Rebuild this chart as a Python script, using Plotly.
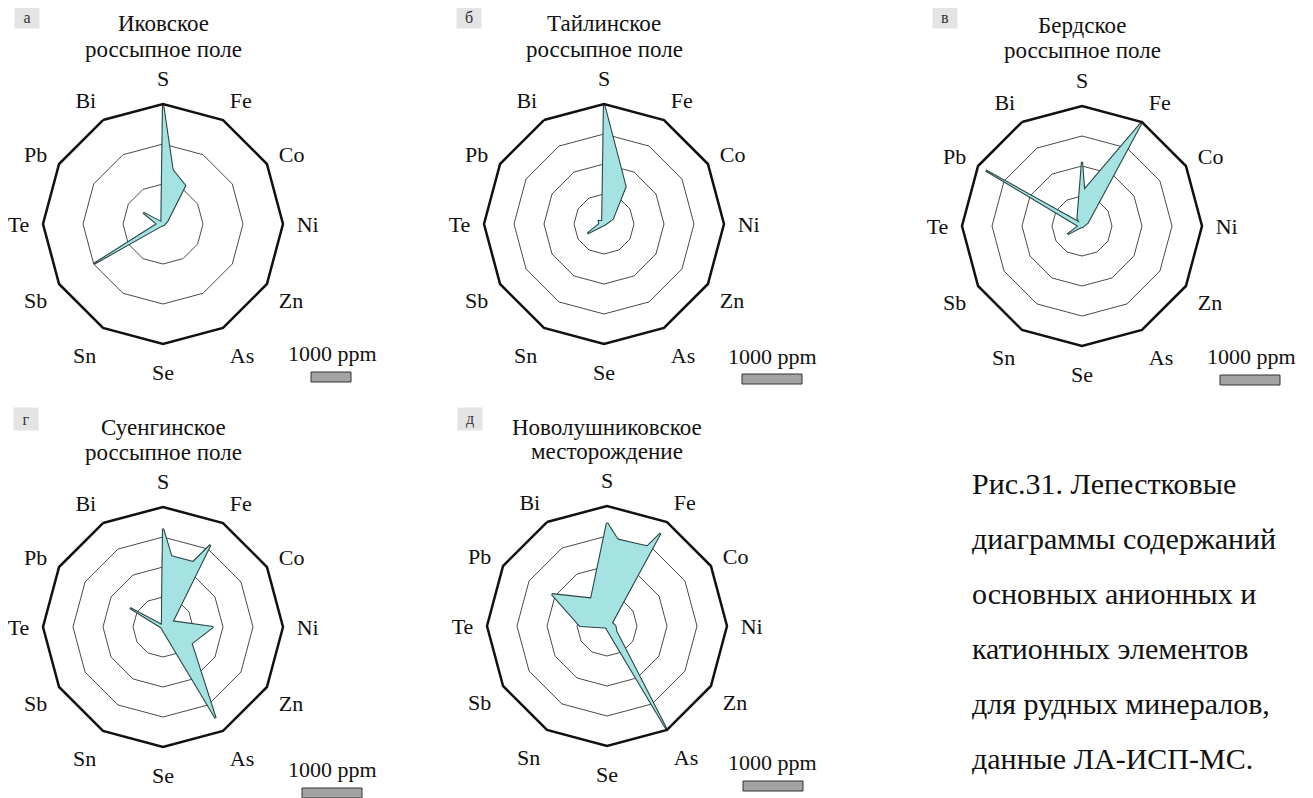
import plotly.graph_objects as go

# the page body has an 8 px margin; the figure is sized to fit the window
OFF = 8
W, H = 1313 - OFF, 798 - OFF

elements = ["S", "Fe", "Co", "Ni", "Zn", "As", "Se", "Sn", "Sb", "Te", "Pb", "Bi"]

# ppm values; several overlapping series per panel
a_series1 = [3000, 700, 60, 30, 30, 30, 30, 30, 60, 50, 50, 80]
a_series2 = [1650, 1110, 120, 40, 30, 30, 30, 40, 2000, 150, 570, 40]

b_series1 = [2000, 720, 170, 30, 20, 20, 20, 30, 320, 80, 100, 60]

v_series1 = [560, 2000, 110, 30, 20, 20, 20, 20, 280, 60, 1850, 60]
v_series2 = [1070, 145, 20, 10, 10, 10, 10, 10, 10, 10, 20, 150]

g_series1 = [1640, 650, 60, 30, 30, 30, 30, 20, 20, 20, 40, 30]
g_series2 = [1215, 1217, 80, 40, 30, 30, 20, 20, 20, 20, 30, 30]
g_series3 = [585, 1580, 186, 835, 550, 1755, 60, 30, 30, 40, 635, 40]

d_series1 = [1720, 1040, 60, 30, 30, 40, 30, 30, 50, 450, 1060, 530]
d_series2 = [1480, 1510, 90, 30, 30, 30, 20, 20, 20, 20, 20, 40]
d_series3 = [665, 1785, 75, 30, 30, 30, 20, 20, 20, 20, 20, 30]
d_series4 = [50, 50, 100, 140, 180, 2000, 60, 30, 30, 30, 30, 30]

panel_letters = ["а", "б", "в", "г", "д"]
panel_title1 = ["Иковское", "Тайлинское", "Бердское", "Суенгинское", "Новолушниковское"]
panel_title2 = ["россыпное поле", "россыпное поле", "россыпное поле", "россыпное поле", "месторождение"]
panel_rmax = [3000, 2000, 2000, 2000, 2000]
panel_rings = [[1000, 2000], [500, 1000, 1500], [500, 1000, 1500], [500, 1000, 1500], [500, 1000, 1500]]
panel_series = [
    [a_series1, a_series2],
    [b_series1],
    [v_series1, v_series2],
    [g_series1, g_series2, g_series3],
    [d_series1, d_series2, d_series3, d_series4],
]
scale_value = 1000
scale_label = "1000 ppm"

caption_lines = [
    "Рис.31. Лепестковые",
    "диаграммы содержаний",
    "основных анионных и",
    "катионных элементов",
    "для рудных минералов,",
    "данные ЛА-ИСП-МС.",
]

# layout (pixel positions in the window)
centers = [(163, 224), (604, 224), (1082, 226), (163, 627), (607, 626)]
R = 120
title_y = [(24, 50), (24, 50), (25, 51), (427, 452), (427, 451)]
letter_pos = [(26.5, 17), (469, 17), (944.5, 17), (26, 419), (470, 419)]
scale_text_pos = [(332, 353), (772, 356), (1251, 356), (332, 769), (773, 762)]
scale_bar_pos = [(331, 377), (772, 379), (1250, 380), (332, 793), (773, 786)]

FONT = "Liberation Serif"
FILL = "#a4e3e1"
EDGE = "#2c4646"

fig = go.Figure()
layout = dict(
    width=W, height=H,
    margin=dict(l=0, r=0, t=0, b=0),
    paper_bgcolor="white",
    showlegend=False,
    font=dict(family=FONT, color="#111"),
)

annotations = []
shapes = []


def px(x):
    return (x - OFF) / W


def py(y):
    return 1 - (y - OFF) / H


for i in range(5):
    key = "polar" if i == 0 else f"polar{i+1}"
    cx, cy = centers[i]
    layout[key] = dict(
        domain=dict(x=[px(cx - R), px(cx + R)], y=[py(cy + R), py(cy - R)]),
        gridshape="linear",
        bgcolor="white",
        radialaxis=dict(
            range=[0, panel_rmax[i]],
            tickvals=panel_rings[i],
            showticklabels=False,
            ticks="",
            showline=False,
            gridcolor="#4a4a4a",
            gridwidth=1,
        ),
        angularaxis=dict(
            type="category",
            categoryarray=elements,
            direction="clockwise",
            rotation=90,
            showgrid=False,
            showline=True,
            linecolor="#111",
            linewidth=2.5,
            ticks="outside",
            ticklen=8,
            tickcolor="rgba(0,0,0,0)",
            tickfont=dict(family=FONT, size=22, color="#111"),
        ),
    )
    # outlines first, then fills over them so only the union edge remains
    for vals in panel_series[i]:
        fig.add_trace(go.Scatterpolar(
            r=vals + [vals[0]], theta=elements + [elements[0]],
            mode="lines", line=dict(color=EDGE, width=2.2),
            subplot=key, hoverinfo="skip",
        ))
    for vals in panel_series[i]:
        fig.add_trace(go.Scatterpolar(
            r=vals + [vals[0]], theta=elements + [elements[0]],
            mode="lines", fill="toself", fillcolor=FILL,
            line=dict(color=FILL, width=0),
            subplot=key, hoverinfo="skip",
        ))

    # titles
    for txt, ty in zip((panel_title1[i], panel_title2[i]), title_y[i]):
        annotations.append(dict(
            text=txt, x=px(cx), y=py(ty), xref="paper", yref="paper",
            xanchor="center", yanchor="middle", showarrow=False,
            font=dict(family=FONT, size=23, color="#111"),
        ))
    # letter boxes
    lx, ly = letter_pos[i]
    annotations.append(dict(
        text=panel_letters[i], x=px(lx), y=py(ly), xref="paper", yref="paper",
        xanchor="center", yanchor="middle", showarrow=False,
        width=22, height=20, bgcolor="#e4e4e4",
        font=dict(family=FONT, size=16, color="#333"),
    ))
    # scale text and bar
    sx, sy = scale_text_pos[i]
    annotations.append(dict(
        text=scale_label, x=px(sx), y=py(sy), xref="paper", yref="paper",
        xanchor="center", yanchor="middle", showarrow=False,
        font=dict(family=FONT, size=22, color="#111"),
    ))
    bx, by = scale_bar_pos[i]
    bw = scale_value / panel_rmax[i] * R
    shapes.append(dict(
        type="rect", xref="paper", yref="paper",
        x0=px(bx - bw / 2), x1=px(bx + bw / 2), y0=py(by + 5), y1=py(by - 5),
        fillcolor="#a3a3a3", line=dict(color="#333", width=1),
    ))

cap_y0, cap_dy, cap_x = 483, 55, 970
for k, line in enumerate(caption_lines):
    annotations.append(dict(
        text=line, x=px(cap_x), y=py(cap_y0 + k * cap_dy), xref="paper", yref="paper",
        xanchor="left", yanchor="middle", showarrow=False,
        font=dict(family=FONT, size=30, color="#111"),
    ))

layout["annotations"] = annotations
layout["shapes"] = shapes
fig.update_layout(**layout)
fig.write_html("out.html")
